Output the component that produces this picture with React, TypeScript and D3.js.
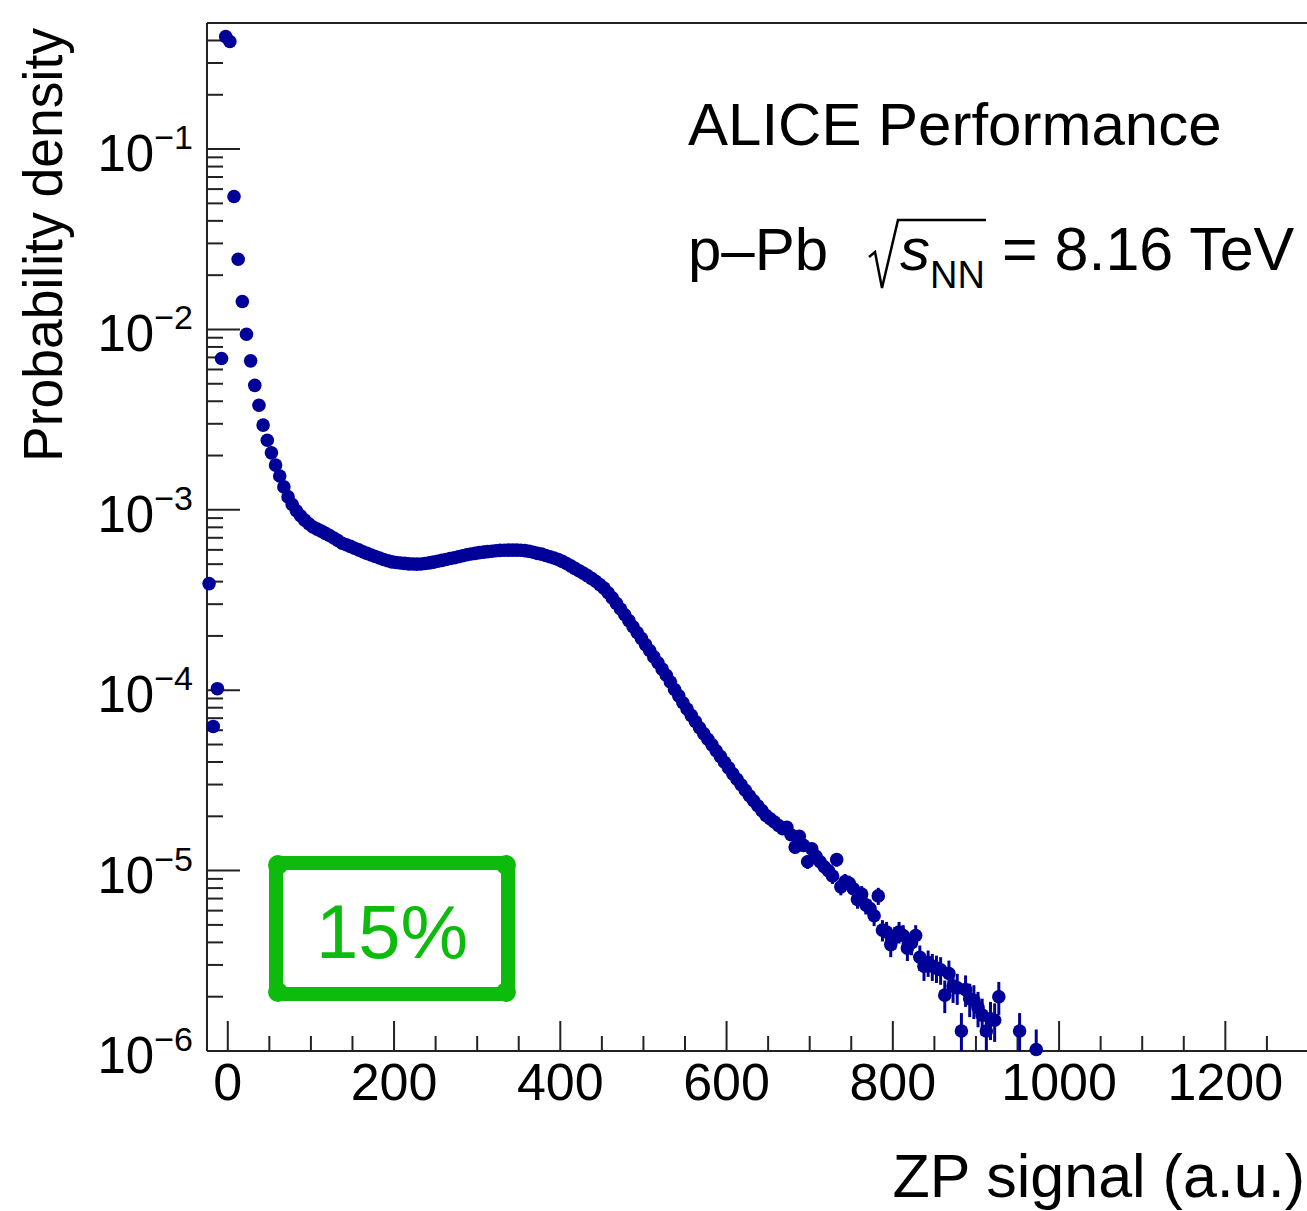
import React from "react";
import * as d3 from "d3";

// Histogram: regular 5-unit bins starting at -25 (bin centres -22.5, -17.5, ...)
const BIN_START = -25;
const BIN_WIDTH = 5;
// Probability density per bin (null = empty bin)
const density: (number | null)[] = [
  3.9e-4, 6.3e-5, 1.02e-4, 6.9e-3, 0.42, 0.395, 0.0546, 0.0245, 0.0143, 0.0094,
  0.0067, 0.0049, 3.8e-3, 2.95e-3, 2.43e-3, 2.07e-3, 1.77e-3, 1.54e-3, 1.34e-3, 1.18e-3,
  1.07e-3, 9.89e-4, 9.27e-4, 8.77e-4, 8.38e-4, 8.04e-4, 7.82e-4, 7.62e-4, 7.41e-4, 7.21e-4,
  6.98e-4, 6.76e-4, 6.53e-4, 6.4e-4, 6.27e-4, 6.13e-4, 6.0e-4, 5.86e-4, 5.74e-4, 5.62e-4,
  5.51e-4, 5.41e-4, 5.31e-4, 5.22e-4, 5.15e-4, 5.11e-4, 5.07e-4, 5.05e-4, 5.02e-4, 5.01e-4,
  5.0e-4, 5.01e-4, 5.04e-4, 5.08e-4, 5.13e-4, 5.19e-4, 5.25e-4, 5.31e-4, 5.37e-4, 5.43e-4,
  5.5e-4, 5.57e-4, 5.64e-4, 5.69e-4, 5.74e-4, 5.79e-4, 5.83e-4, 5.87e-4, 5.9e-4, 5.93e-4,
  5.96e-4, 5.97e-4, 5.98e-4, 5.98e-4, 5.98e-4, 5.97e-4, 5.94e-4, 5.89e-4, 5.82e-4, 5.74e-4,
  5.68e-4, 5.58e-4, 5.5e-4, 5.41e-4, 5.31e-4, 5.18e-4, 5.04e-4, 4.89e-4, 4.74e-4, 4.6e-4,
  4.46e-4, 4.32e-4, 4.17e-4, 4.02e-4, 3.85e-4, 3.68e-4, 3.47e-4, 3.25e-4, 3.03e-4, 2.82e-4,
  2.62e-4, 2.43e-4, 2.25e-4, 2.09e-4, 1.94e-4, 1.79e-4, 1.66e-4, 1.53e-4, 1.42e-4, 1.31e-4,
  1.21e-4, 1.11e-4, 1.01e-4, 9.31e-5, 8.53e-5, 7.87e-5, 7.26e-5, 6.71e-5, 6.19e-5, 5.75e-5,
  5.35e-5, 4.98e-5, 4.62e-5, 4.3e-5, 3.99e-5, 3.71e-5, 3.44e-5, 3.21e-5, 2.99e-5, 2.79e-5,
  2.6e-5, 2.44e-5, 2.29e-5, 2.15e-5, 2.02e-5, 1.94e-5, 1.86e-5, 1.78e-5, 1.71e-5, 1.74e-5,
  1.58e-5, 1.35e-5, 1.55e-5, 1.38e-5, 1.12e-5, 1.32e-5, 1.2e-5, 1.12e-5, 1.05e-5, 1.0e-5,
  9.33e-6, 1.15e-5, 8.13e-6, 8.71e-6, 8.51e-6, 7.94e-6, 6.92e-6, 7.41e-6, 6.46e-6, 6.17e-6,
  5.62e-6, 7.24e-6, 4.68e-6, 4.57e-6, 3.89e-6, 4.27e-6, 4.57e-6, 4.37e-6, 3.72e-6, 3.98e-6,
  4.37e-6, 3.31e-6, 2.95e-6, 3.09e-6, 2.95e-6, 2.88e-6, 2.82e-6, 2.04e-6, 2.69e-6, 2.29e-6,
  2.24e-6, 1.29e-6, 2.19e-6, 1.95e-6, 1.91e-6, 1.74e-6, 1.58e-6, 1.29e-6, 1.51e-6, 1.48e-6,
  2.0e-6, null, null, null, null, 1.29e-6, null, null, null, 1.02e-6,
];
// density carried by one entry (sets the Poisson error bar size)
const COUNT_UNIT = 8.6e-8;

const xDomain = [-25, 1300];
const yDomain = [1e-6, 0.5];
const xMajorTicks = [0, 200, 400, 600, 800, 1000, 1200];
const yExponents = [-1, -2, -3, -4, -5, -6];

const titleText = "ALICE Performance";
const systemText = "p–Pb";
const energyText = "= 8.16 TeV";
const xTitle = "ZP signal (a.u.)";
const yTitle = "Probability density";
const badgeText = "15%";

const FONT = "'Liberation Sans', Arial, Helvetica, sans-serif";
const MARKER = "#000099";
const GREEN = "#0dbb0d";

export default function App() {
  const left = 207, top = 23, bottom = 1051;
  const x = d3.scaleLinear().domain(xDomain).range([left, left + (xDomain[1] - xDomain[0]) * 0.8313]);
  const y = d3.scaleLog().domain(yDomain).range([bottom, top]);
  const right = x(xDomain[1]);

  const points = density
    .map((v, i) => ({ c: BIN_START + BIN_WIDTH * (i + 0.5), v }))
    .filter((d) => d.v !== null) as { c: number; v: number }[];

  const clampY = (v: number) => y(Math.min(Math.max(v, yDomain[0]), yDomain[1]));

  const yMinor: number[] = [];
  for (let e = -6; e <= -1; e++) {
    for (let m = 2; m <= 9; m++) {
      const v = m * Math.pow(10, e);
      if (v <= yDomain[1]) yMinor.push(v);
    }
  }
  const xMinor = d3.range(0, xDomain[1] + 1, 50).filter((t) => t % 200 !== 0);

  return (
    <svg
      width={1307}
      height={1211}
      style={{ position: "absolute", left: 0, top: 0, background: "#fff" }}
      fontFamily={FONT}
    >
      {/* frame */}
      <g stroke="#222" strokeWidth={2} fill="none">
        <line x1={left} y1={top} x2={left} y2={bottom} />
        <line x1={left} y1={top} x2={right} y2={top} />
        <line x1={left} y1={bottom} x2={right} y2={bottom} />
        <line x1={right} y1={top} x2={right} y2={bottom} />
      </g>
      {/* ticks */}
      <g stroke="#222" strokeWidth={2}>
        {yExponents.map((e) => (
          <line key={"ym" + e} x1={left} x2={left + 33} y1={y(Math.pow(10, e))} y2={y(Math.pow(10, e))} />
        ))}
        {yMinor.map((v, i) => (
          <line key={"yn" + i} x1={left} x2={left + 16} y1={y(v)} y2={y(v)} />
        ))}
        {xMajorTicks.map((t) => (
          <line key={"xm" + t} x1={x(t)} x2={x(t)} y1={bottom} y2={bottom - 30} />
        ))}
        {xMinor.map((t) => (
          <line key={"xn" + t} x1={x(t)} x2={x(t)} y1={bottom} y2={bottom - 15} />
        ))}
      </g>
      {/* y tick labels */}
      {yExponents.map((e) => (
        <text key={"yl" + e} x={193} y={y(Math.pow(10, e)) + 22} textAnchor="end" fontSize={51} fill="#000">
          <tspan>10</tspan>
          <tspan fontSize={34} dy={-22}>{"−" + Math.abs(e)}</tspan>
        </text>
      ))}
      {/* x tick labels */}
      {xMajorTicks.map((t) => (
        <text key={"xl" + t} x={x(t)} y={1100} textAnchor="middle" fontSize={52} fill="#000">
          {t}
        </text>
      ))}
      {/* axis titles */}
      <text x={1305} y={1197} textAnchor="end" fontSize={61} fill="#000">
        {xTitle}
      </text>
      <text
        transform="translate(62,28) rotate(-90)"
        textAnchor="end"
        fontSize={55}
        fill="#000"
        textLength={434}
        lengthAdjust="spacingAndGlyphs"
      >
        {yTitle}
      </text>
      {/* labels */}
      <text x={688} y={145} fontSize={60} fill="#000">
        {titleText}
      </text>
      <text x={688} y={270} fontSize={60} fill="#000">
        {systemText}
      </text>
      <path d="M869 257 L875 252 L882 288 L898 220 L986 220" fill="none" stroke="#000" strokeWidth={2.5} />
      <text x={900} y={270} fontSize={60} fontStyle="italic" fill="#000">
        s
      </text>
      <text x={930} y={288} fontSize={38} fill="#000">
        NN
      </text>
      <text x={1002} y={270} fontSize={61} fill="#000">
        {energyText}
      </text>
      {/* green badge */}
      <rect x={276} y={863} width={232} height={131} rx={8} fill="none" stroke={GREEN} strokeWidth={14} />
      {[
        [278, 865],
        [506, 865],
        [278, 992],
        [506, 992],
      ].map(([cx, cy], i) => (
        <circle key={"gc" + i} cx={cx} cy={cy} r={10} fill={GREEN} />
      ))}
      <text x={392} y={958} textAnchor="middle" fontSize={76} fill={GREEN}>
        {badgeText}
      </text>
      {/* error bars */}
      <g stroke={MARKER} strokeWidth={3}>
        {points.map((d, i) => {
          const err = Math.sqrt(d.v * COUNT_UNIT);
          return (
            <line key={"e" + i} x1={x(d.c)} x2={x(d.c)} y1={clampY(d.v - err)} y2={clampY(d.v + err)} />
          );
        })}
      </g>
      {/* markers */}
      <g fill={MARKER}>
        {points.map((d, i) => (
          <circle key={"p" + i} cx={x(d.c)} cy={y(d.v)} r={6.8} />
        ))}
      </g>
    </svg>
  );
}
